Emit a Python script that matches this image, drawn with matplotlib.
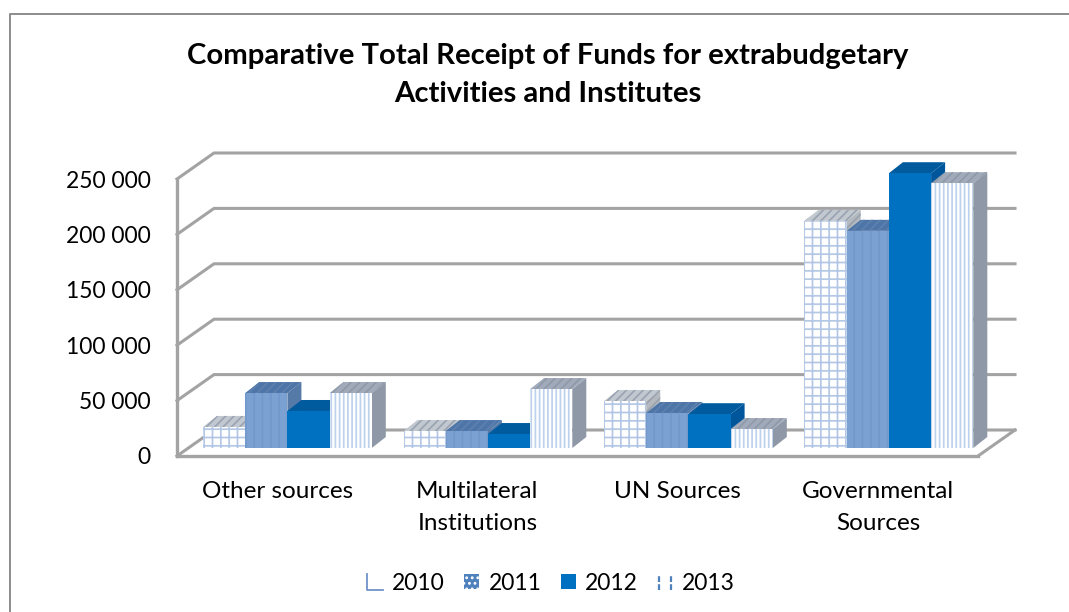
import matplotlib
matplotlib.use("Agg")
import matplotlib.pyplot as plt
from matplotlib.patches import Polygon, Patch
from matplotlib.lines import Line2D
from matplotlib.legend_handler import HandlerBase

W, H, DPI = 1069, 612, 100

title = "Comparative Total Receipt of Funds for extrabudgetary\nActivities and Institutes"
categories = ["Other sources", "Multilateral\nInstitutions", "UN Sources", "Governmental\nSources"]
years = ["2010", "2011", "2012", "2013"]
values_2010 = [19000, 15300, 42400, 205000]
values_2011 = [49600, 15300, 31600, 196000]
values_2012 = [33400, 12600, 30500, 248000]
values_2013 = [49600, 53200, 17100, 239000]
y_ticks = [0, 50000, 100000, 150000, 200000, 250000]
y_labels = ["0", "50 000", "100 000", "150 000", "200 000", "250 000"]

GREY = "#a3a3a3"
plt.rcParams["font.family"] = ["Lato", "DejaVu Sans"]
plt.rcParams["hatch.linewidth"] = 1.25

fig = plt.figure(figsize=(W / DPI, H / DPI), dpi=DPI)
ax = fig.add_axes([177 / W, 1 - 456 / H, 801 / W, 277 / H])
ax.set_xlim(0, 4)
ax.set_ylim(0, 250000)

# Pixel sizes converted to data units for the oblique projection
px_x = 4 / 801
px_y = 250000 / 277
wall_dx, wall_dy = 37 * px_x, 26 * px_y
bar_w = 42.2 * px_x
bar_dx, bar_dy = 14 * px_x, 11 * px_y
base_dx, base_dy = 26 * px_x, 8 * px_y

# Floor and wall outlines
for v in y_ticks:
    ax.plot([0, wall_dx, 4 + wall_dx], [v, v + wall_dy, v + wall_dy],
            color=GREY, lw=2.2, clip_on=False, zorder=1, solid_joinstyle="miter")
ax.plot([4, 4 + wall_dx], [0, wall_dy], color=GREY, lw=2.2, clip_on=False, zorder=1)

for name in ("top", "right"):
    ax.spines[name].set_visible(False)
for name in ("left", "bottom"):
    ax.spines[name].set_color(GREY)
    ax.spines[name].set_linewidth(2.4)
    ax.spines[name].set_zorder(1)

series = [
    dict(values=values_2010, face="white", hatch="++", hcol="#b4c8e6",
         top="#c2c8d0", thatch="////", tcol="#9aa4b2", side="#b4b9c0", shatch="////", scol="#9aa2ad"),
    dict(values=values_2011, face="#7ba0d2", hatch="||", hcol="#7398cb",
         top="#4d75a8", thatch="////", tcol="#5d80ad", side="#557aa8", shatch=None, scol="#557aa8"),
    dict(values=values_2012, face="#0070c0", hatch=None, hcol="#0070c0",
         top="#005a9e", thatch=None, tcol="#005a9e", side="#00569a", shatch=None, scol="#00569a"),
    dict(values=values_2013, face="white", hatch="||||", hcol="#bcd2ec",
         top="#a0aaba", thatch="////", tcol="#8f9aa8", side="#8e98a6", shatch=None, scol="#8e98a6"),
]

# Bars are painted left to right so each front face covers its neighbour's side
z = 3
for c in range(len(categories)):
    for s, st in enumerate(series):
        x0 = c + base_dx + s * bar_w + c * 0.25 * px_x
        x1 = x0 + bar_w
        y0 = base_dy
        y1 = y0 + st["values"][c]
        ax.add_patch(Polygon([(x1, y0), (x1 + bar_dx, y0 + bar_dy), (x1 + bar_dx, y1 + bar_dy), (x1, y1)],
                             facecolor=st["side"], edgecolor=st["scol"], hatch=st["shatch"],
                             lw=0, clip_on=False, zorder=z))
        ax.add_patch(Polygon([(x0, y1), (x1, y1), (x1 + bar_dx, y1 + bar_dy), (x0 + bar_dx, y1 + bar_dy)],
                             facecolor=st["top"], edgecolor=st["tcol"], hatch=st["thatch"],
                             lw=0, clip_on=False, zorder=z))
        ax.add_patch(Polygon([(x0, y0), (x1, y0), (x1, y1), (x0, y1)],
                             facecolor=st["face"], edgecolor=st["hcol"], hatch=st["hatch"],
                             lw=0, clip_on=False, zorder=z + 1))
        z += 2

ax.set_yticks(y_ticks, y_labels, fontsize=16.5, color="black")
ax.set_xticks([i + 0.5 for i in range(4)], categories, fontsize=17.5, color="black", linespacing=1.66)
ax.tick_params(axis="both", length=0)
ax.tick_params(axis="y", pad=19)
ax.tick_params(axis="x", pad=18)

fig.text(548 / W, 1 - 75 / H, title, ha="center", va="center", fontsize=21.1,
         fontweight="bold", linespacing=1.6)


class CornerHandler(HandlerBase):
    """Legend key with only its left and bottom edges drawn."""
    def create_artists(self, legend, orig, x, y, w, h, fontsize, trans):
        return [Line2D([x, x, x + w], [y + h, y, y], color="#6f94c8", lw=1.3, transform=trans)]


class DashedBarsHandler(HandlerBase):
    """Legend key made of two dashed vertical strokes."""
    def create_artists(self, legend, orig, x, y, w, h, fontsize, trans):
        return [Line2D([x + f * w, x + f * w], [y, y + h], color="#4f81bd", lw=1.6,
                       dashes=(2.6, 1.0), transform=trans) for f in (0.12, 0.88)]


handles = [
    Patch(facecolor="white"),
    Patch(facecolor="#4f81bd", edgecolor="white", hatch="...", lw=0),
    Patch(facecolor="#0070c0", edgecolor="#0070c0", lw=0),
    Line2D([], []),
]
fig.legend(handles, years, loc="center", bbox_to_anchor=(551 / W, 1 - 583 / H), ncol=4,
           frameon=False, fontsize=16.5, handlelength=0.68, handleheight=0.68,
           handletextpad=0.4, columnspacing=0.84,
           handler_map={handles[0]: CornerHandler(), handles[3]: DashedBarsHandler()})

# Outer chart frame: only the top and left edges fall inside the canvas
fig.add_artist(Line2D([10 / W, 10 / W, 1], [0, 1 - 14 / H, 1 - 14 / H],
                      transform=fig.transFigure, color="#8c8c8c", lw=1.4))

fig.savefig("out.png", dpi=DPI)
